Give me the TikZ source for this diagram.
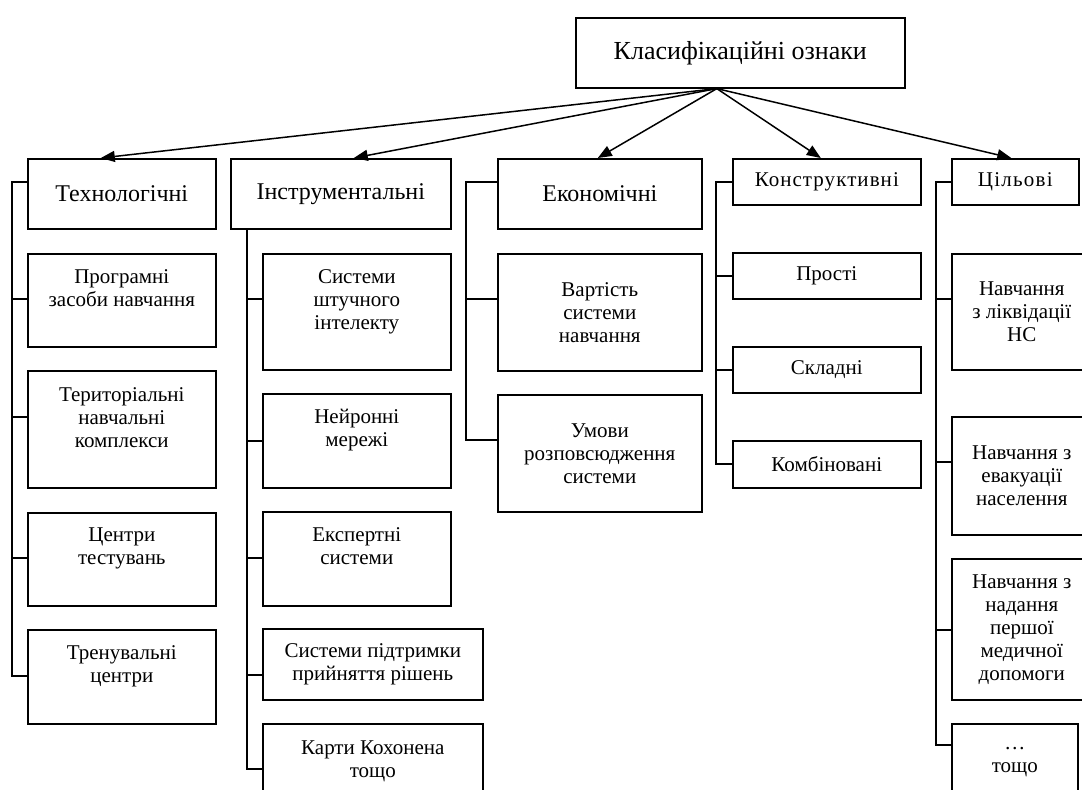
\documentclass[tikz,border=0pt]{standalone}
\usepackage{fontspec}
\setmainfont{Liberation Serif}
\usetikzlibrary{arrows.meta}
\begin{document}
\begin{tikzpicture}[x=1pt,y=-1pt,
  box/.style={draw, line width=1.6pt, rectangle, inner sep=0pt, anchor=north west, align=center,
    font=\fontsize{21}{23}\selectfont},
  lvl/.style={box, font=\fontsize{24}{28}\selectfont},
  lvls/.style={box, font=\fontsize{21}{24}\selectfont\addfontfeature{LetterSpace=5}},
  txt/.style={inner sep=0pt, anchor=north, align=center, font=\fontsize{21}{23}\selectfont},
  conn/.style={line width=1.6pt},
  arr/.style={line width=1.5pt, -{Triangle[length=14pt,width=11pt]}}]
\useasboundingbox (0,0) rectangle (1082,790);
\fill[white] (0,0) rectangle (1082,790);

% top
\node[box, font=\fontsize{26}{30}\selectfont, minimum width=329, minimum height=70] (top) at (575,17) {Класифікаційні ознаки};
\coordinate (o) at ([xshift=-23.5pt]top.south);

% level 1
\node[lvl, minimum width=188, minimum height=70] (tech) at (27,158) {Технологічні};
\node[lvl, minimum width=220, minimum height=70] (instr) at (230,158) {Інструментальні};
\node[lvl, minimum width=204, minimum height=70] (econ) at (497,158) {Економічні};
\node[lvls, minimum width=188, minimum height=46] (konstr) at (732,158) {Конструктивні};
\node[lvls, minimum width=127, minimum height=46, font=\fontsize{21}{24}\selectfont\addfontfeature{LetterSpace=6}] (cil) at (951,158) {Цільові};

\draw[arr] (o) -- ([xshift=-21pt]tech.north);
\draw[arr] (o) -- ([xshift=13pt]instr.north);
\draw[arr] (o) -- ([xshift=-2pt]econ.north);
\draw[arr] (o) -- ([xshift=-6pt]konstr.north);
\draw[arr] (o) -- ([xshift=-4pt]cil.north);

% technological column
\node[box, minimum width=188, minimum height=93] (t1) at (27,253) {};
\node[txt] (t1x) at ([yshift=-16pt]t1.north) {Програмні\\засоби навчання};
\node[box, minimum width=188, minimum height=117] (t2) at (27,370) {};
\node[txt] (t2x) at ([yshift=-17pt]t2.north) {Територіальні\\навчальні\\комплекси};
\node[box, minimum width=188, minimum height=93] (t3) at (27,512) {};
\node[txt] (t3x) at ([yshift=-16pt]t3.north) {Центри\\тестувань};
\node[box, minimum width=188, minimum height=94] (t4) at (27,629) {};
\node[txt] (t4x) at ([yshift=-16pt]t4.north) {Тренувальні\\центри};

\coordinate (ts) at (12,182);
\draw[conn] (ts -| tech.west) -- (ts) |- (t4.west |- 0,676);
\draw[conn] (t1.west |- 0,299) -- (ts |- 0,299);
\draw[conn] (t2.west |- 0,417) -- (ts |- 0,417);
\draw[conn] (t3.west |- 0,558) -- (ts |- 0,558);

% instrumental column
\node[box, minimum width=188, minimum height=116] (i1) at (262,253) {};
\node[txt] (i1x) at ([yshift=-16pt]i1.north) {Системи\\штучного\\інтелекту};
\node[box, minimum width=188, minimum height=94] (i2) at (262,393) {};
\node[txt] (i2x) at ([yshift=-16pt]i2.north) {Нейронні\\мережі};
\node[box, minimum width=188, minimum height=94] (i3) at (262,511) {};
\node[txt] (i3x) at ([yshift=-16pt]i3.north) {Експертні\\системи};
\node[box, minimum width=220, minimum height=71] (i4) at (262,628) {Системи підтримки\\прийняття рішень};
\node[box, minimum width=220, minimum height=92] (i5) at (262,723) {};
\node[txt] (i5x) at ([yshift=-18pt]i5.north) {Карти Кохонена\\тощо};

\coordinate (is) at (247,228);
\draw[conn] (is) |- (i5.west |- 0,769);
\draw[conn] (i1.west |- 0,299) -- (is |- 0,299);
\draw[conn] (i2.west |- 0,441) -- (is |- 0,441);
\draw[conn] (i3.west |- 0,558) -- (is |- 0,558);
\draw[conn] (i4.west |- 0,675) -- (is |- 0,675);

% economic column
\node[box, minimum width=204, minimum height=117] (e1) at (497,253) {Вартість\\системи\\навчання};
\node[box, minimum width=204, minimum height=117] (e2) at (497,394) {Умови\\розповсюдження\\системи};

\coordinate (es) at (466,182);
\draw[conn] (es -| econ.west) -- (es) |- (e2.west |- 0,440);
\draw[conn] (e1.west |- 0,299) -- (es |- 0,299);

% constructive column
\node[box, minimum width=188, minimum height=46] (k1) at (732,252) {Прості};
\node[box, minimum width=188, minimum height=46] (k2) at (732,346) {Складні};
\node[box, minimum width=188, minimum height=47] (k3) at (732,440) {Комбіновані};

\coordinate (ks) at (716,182);
\draw[conn] (ks -| konstr.west) -- (ks) |- (k3.west |- 0,464);
\draw[conn] (k1.west |- 0,276) -- (ks |- 0,276);
\draw[conn] (k2.west |- 0,370) -- (ks |- 0,370);

% goal column
\node[box, minimum width=140, minimum height=116] (c1) at (951,253) {Навчання\\з ліквідації\\НС};
\node[box, minimum width=140, minimum height=118] (c2) at (951,416) {Навчання з\\евакуації\\населення};
\node[box, minimum width=140, minimum height=141] (c3) at (951,558) {Навчання з\\надання\\першої\\медичної\\допомоги};
\node[box, minimum width=126, minimum height=90] (c4) at (951,723) {};
\node[txt] (c4x) at ([yshift=-24pt]c4.north) {…\\тощо};

\coordinate (cs) at (936,182);
\draw[conn] (cs -| cil.west) -- (cs) |- (c4.west |- 0,745);
\draw[conn] (c1.west |- 0,299) -- (cs |- 0,299);
\draw[conn] (c2.west |- 0,462) -- (cs |- 0,462);
\draw[conn] (c3.west |- 0,630) -- (cs |- 0,630);
\end{tikzpicture}
\end{document}
